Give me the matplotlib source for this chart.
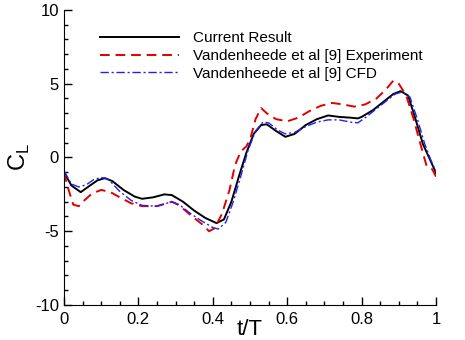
import numpy as np
import matplotlib
matplotlib.use('Agg')
import matplotlib.pyplot as plt
from matplotlib.ticker import MultipleLocator, FuncFormatter

plt.rcParams['font.family'] = ['Liberation Sans', 'DejaVu Sans']

# current result
t_cur = [0.00, 0.02, 0.045, 0.07, 0.09, 0.11, 0.13, 0.16, 0.19, 0.21, 0.24, 0.27,
         0.29, 0.32, 0.35, 0.38, 0.41, 0.43, 0.45, 0.47, 0.49, 0.51, 0.53, 0.545,
         0.57, 0.595, 0.62, 0.65, 0.68, 0.71, 0.74, 0.77, 0.79, 0.80, 0.83, 0.86,
         0.885, 0.905, 0.925, 0.945, 0.965, 0.985, 1.0]
cl_cur = [-1.0, -1.9, -2.35, -1.9, -1.55, -1.4, -1.6, -2.2, -2.65, -2.8, -2.7, -2.5,
          -2.55, -3.0, -3.6, -4.1, -4.45, -4.2, -3.0, -1.3, 0.3, 1.6, 2.2, 2.25,
          1.8, 1.4, 1.6, 2.2, 2.6, 2.85, 2.75, 2.7, 2.65, 2.75, 3.2, 3.8,
          4.3, 4.5, 4.2, 2.6, 0.9, -0.2, -1.05]

# experiment
t_exp = [0.00, 0.01, 0.025, 0.04, 0.055, 0.075, 0.10, 0.125, 0.15, 0.18, 0.21, 0.25,
         0.27, 0.29, 0.31, 0.34, 0.37, 0.39, 0.405, 0.425, 0.445, 0.46, 0.475, 0.49,
         0.50, 0.515, 0.53, 0.545, 0.57, 0.60, 0.63, 0.66, 0.69, 0.72, 0.75, 0.78,
         0.81, 0.84, 0.865, 0.885, 0.90, 0.92, 0.94, 0.955, 0.975, 0.99, 1.0]
cl_exp = [-1.0, -2.0, -3.2, -3.3, -2.9, -2.45, -2.2, -2.35, -2.7, -3.1, -3.3, -3.3,
          -3.15, -3.0, -3.25, -3.9, -4.5, -5.0, -4.8, -3.8, -2.2, -0.5, 0.4, 0.75,
          1.2, 2.6, 3.35, 3.0, 2.6, 2.45, 2.7, 3.15, 3.5, 3.7, 3.6, 3.45,
          3.6, 4.0, 4.6, 5.2, 5.0, 4.2, 2.6, 1.2, -0.6, -0.8, -1.3]

# CFD
t_cfd = [0.00, 0.02, 0.04, 0.06, 0.08, 0.10, 0.12, 0.15, 0.18, 0.21, 0.25, 0.27,
         0.29, 0.31, 0.34, 0.37, 0.40, 0.415, 0.435, 0.455, 0.475, 0.495, 0.515, 0.535,
         0.55, 0.575, 0.595, 0.62, 0.65, 0.68, 0.71, 0.74, 0.77, 0.79, 0.81, 0.84,
         0.87, 0.89, 0.91, 0.93, 0.95, 0.97, 0.985, 1.0]
cl_cfd = [-0.9, -1.8, -2.0, -1.85, -1.5, -1.35, -1.5, -2.3, -2.9, -3.25, -3.3, -3.15,
          -3.0, -3.2, -3.8, -4.3, -4.75, -4.85, -4.4, -3.0, -1.3, 0.5, 1.8, 2.4,
          2.35, 1.85, 1.6, 1.7, 2.1, 2.4, 2.55, 2.55, 2.4, 2.35, 2.7, 3.3,
          3.9, 4.3, 4.45, 4.1, 2.6, 0.9, -0.1, -0.95]

fig = plt.figure(figsize=(4.65, 3.4), dpi=100)
ax = fig.add_axes([0.1376, 0.103, 0.80, 0.8676])

ax.plot(t_cur, cl_cur, color='black', lw=1.4, label='Current Result')
ax.plot(t_exp, cl_exp, color='#e00000', lw=1.4, dashes=(5, 3),
        label='Vandenheede et al [9] Experiment')
ax.plot(t_cfd, cl_cfd, color='#2020ff', lw=1.0, dashes=(6, 2, 1.5, 2),
        label='Vandenheede et al [9] CFD')

ax.set_xlim(0, 1)
ax.set_ylim(-10, 10)
ax.spines['top'].set_visible(False)
ax.spines['right'].set_visible(False)
ax.xaxis.set_major_locator(MultipleLocator(0.2))
ax.xaxis.set_minor_locator(MultipleLocator(0.05))
ax.yaxis.set_major_locator(MultipleLocator(5))
ax.yaxis.set_minor_locator(MultipleLocator(1))
ax.xaxis.set_major_formatter(FuncFormatter(lambda v, p: '%g' % round(v, 3)))
ax.yaxis.set_major_formatter(FuncFormatter(lambda v, p: '%g' % round(v, 3)))
ax.tick_params(which='both', direction='in', labelsize=12, width=1)
ax.tick_params(which='major', length=6)
ax.tick_params(which='minor', length=3)
ax.tick_params(axis='x', pad=5)

ax.set_xlabel('t/T', fontsize=16, labelpad=-6)
ax.set_ylabel('C$_\\mathregular{L}$', fontsize=17, labelpad=2)

ax.legend(loc='upper left', bbox_to_anchor=(0.06, 0.975), frameon=False,
          fontsize=11, handlelength=5.2, handletextpad=0.9, labelspacing=0.25)

fig.savefig('out.png', dpi=100)
